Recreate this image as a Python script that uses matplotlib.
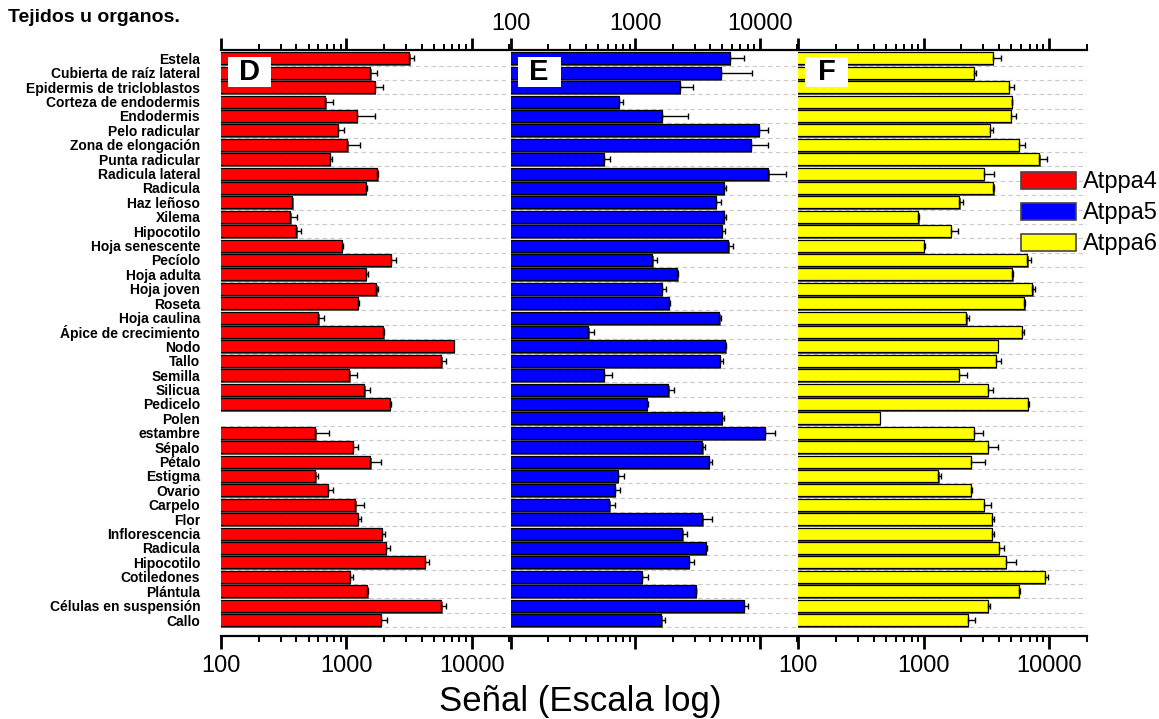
import numpy as np
import matplotlib.pyplot as plt
import matplotlib.patheffects as pe
from matplotlib.patches import Patch, Rectangle

plt.rcParams["font.family"] = ["Liberation Sans", "DejaVu Sans"]

tissues = [
    "Estela", "Cubierta de raíz lateral", "Epidermis de tricloblastos",
    "Corteza de endodermis", "Endodermis", "Pelo radicular",
    "Zona de elongación", "Punta radicular", "Radicula lateral", "Radicula",
    "Haz leñoso", "Xilema", "Hipocotilo", "Hoja senescente", "Pecíolo",
    "Hoja adulta", "Hoja joven", "Roseta", "Hoja caulina",
    "Ápice de crecimiento", "Nodo", "Tallo", "Semilla", "Silicua",
    "Pedicelo", "Polen", "estambre", "Sépalo", "Pétalo", "Estigma",
    "Ovario", "Carpelo", "Flor", "Inflorescencia", "Radicula",
    "Hipocotilo", "Cotiledones", "Plántula", "Células en suspensión", "Callo",
]

# Atppa4 (panel D)
atppa4 = [3180, 1555, 1684, 680, 1217, 859, 1019, 741, 1770, 1437,
          371, 357, 399, 919, 2274, 1428, 1737, 1233, 598, 1973,
          7196, 5730, 1057, 1393, 2220, np.nan, 566, 1131, 1555, 566,
          710, 1180, 1233, 1916, 2062, 4224, 1065, 1472, 5730, 1880]
atppa4_err = [290, 215, 290, 108, 467, 100, 275, 32, 30, 29,
              0, 49, 36, 17, 219, 62, 53, 27, 66, 37,
              0, 480, 154, 162, 54, 0, 162, 102, 325, 27,
              78, 197, 87, 124, 158, 371, 66, 18, 480, 220]

# Atppa5 (panel E)
atppa5 = [5770, 4890, 2290, 741, 1632, 9870, 8470, 558, 11720, 5170,
          4456, 5140, 4950, 5600, 1374, 2180, 1632, 1858, 4740, 420,
          5290, 4770, 558, 1845, 1244, 4980, 10960, 3460, 3915, 723,
          688, 620, 3460, 2390, 3700, 2700, 1133, 3060, 7430, 1621]
atppa5_err = [1660, 3780, 620, 62, 1040, 1850, 3250, 73, 4460, 180,
              394, 190, 300, 500, 115, 40, 126, 42, 110, 44,
              60, 300, 89, 195, 16, 170, 2310, 180, 225, 95,
              67, 72, 650, 220, 60, 285, 126, 40, 680, 125]

# Atppa6 (panel F)
atppa6 = [3548, 2506, 4757, 5025, 4932, 3383, 5750, 8390, 3032, 3594,
          1928, 906, 1645, 1004, 6700, 5090, 7340, 6340, 2190, 6040,
          3917, 3750, 1905, 3237, 6780, 449, 2506, 3237, 2373, 1306,
          2373, 3032, 3510, 3510, 3990, 4530, 9265, 5750, 3237, 2250]
atppa6_err = [592, 114, 523, 75, 538, 165, 670, 1320, 582, 56,
              122, 14, 225, 16, 500, 90, 400, 110, 120, 260,
              0, 410, 315, 357, 120, 0, 471, 703, 693, 74,
              67, 414, 110, 110, 355, 940, 625, 100, 123, 303]

series_names = ["Atppa4", "Atppa5", "Atppa6"]
series_colors = ["#ff0000", "#0000ff", "#ffff00"]
panel_letters = ["D", "E", "F"]

W, H = 1159, 719


def draw_panel(ax, values, errors, color, letter, top_labels, bottom_labels):
    values = np.array(values, dtype=float)
    errors = np.array(errors, dtype=float)
    y = np.arange(len(values))
    ok = ~np.isnan(values)

    bars = ax.barh(y[ok], values[ok], height=0.83, left=0, color=color,
                   edgecolor="black", linewidth=0.9, zorder=3)
    for b in bars:
        b.set_path_effects([pe.SimplePatchShadow(offset=(1, -1.5),
                                                 shadow_rgbFace="#555555",
                                                 alpha=0.9),
                            pe.Normal()])

    has_err = ok & (errors > 0)
    ax.errorbar(values[has_err], y[has_err],
                xerr=[np.zeros(has_err.sum()), errors[has_err]],
                fmt="none", ecolor="black", elinewidth=1, capsize=2,
                capthick=1, zorder=4)

    ax.set_xscale("log")
    ax.set_xlim(100, 20000)
    ax.set_ylim(len(values) - 1 + 1.09, -0.58)

    ax.set_yticks(y + 0.5, minor=True)
    ax.grid(axis="y", which="minor", linestyle=(0, (4, 3)),
            color="#c8c8c8", linewidth=0.8, zorder=0)
    ax.grid(axis="x", visible=False)

    for side in ["left", "right"]:
        ax.spines[side].set_visible(False)
    for side in ["top", "bottom"]:
        ax.spines[side].set_linewidth(1.6)

    ax.tick_params(axis="x", which="both", direction="out",
                   top=True, bottom=True,
                   labeltop=top_labels, labelbottom=bottom_labels,
                   labelsize=17)
    ax.tick_params(axis="x", which="major", length=9, width=2, pad=5)
    ax.tick_params(axis="x", which="minor", length=4, width=1.4)
    if top_labels:
        ax.tick_params(axis="x", which="major", pad=2)
    ax.xaxis.set_major_formatter(plt.FuncFormatter(lambda v, p: f"{v:.0f}"))
    ax.xaxis.set_minor_formatter(plt.NullFormatter())

    # white box behind the panel letter
    ax.add_patch(Rectangle((0.024, 0.937), 0.15, 0.051,
                           transform=ax.transAxes, facecolor="white",
                           edgecolor="none", zorder=5))
    ax.text(0.099, 0.962, letter, transform=ax.transAxes, fontsize=21,
            fontweight="bold", ha="center", va="center", zorder=6)


fig = plt.figure(figsize=(W / 100, H / 100), dpi=100)

bottom = 1 - 635.7 / H
height = (635.7 - 50) / H
lefts = [221, 510.7, 798.3]
widths = [288.3, 286.5, 288.5]

all_vals = [atppa4, atppa5, atppa6]
all_errs = [atppa4_err, atppa5_err, atppa6_err]

axes = []
for i in range(3):
    ax = fig.add_axes([lefts[i] / W, bottom, widths[i] / W, height])
    draw_panel(ax, all_vals[i], all_errs[i], series_colors[i],
               panel_letters[i], top_labels=(i == 1),
               bottom_labels=(i != 1))
    axes.append(ax)

axes[0].set_yticks(np.arange(len(tissues)))
axes[0].set_yticklabels(tissues, fontsize=10, fontweight="bold")
axes[0].tick_params(axis="y", which="both", length=0, pad=15)
for ax in axes[1:]:
    ax.tick_params(axis="y", which="both", left=False, labelleft=False)
    ax.set_yticks([])
    ax.set_yticks(np.arange(len(tissues)) + 0.5, minor=True)
    ax.tick_params(axis="y", which="minor", length=0)
axes[0].tick_params(axis="y", which="minor", length=0)

fig.text(8 / W, 1 - 18 / H, "Tejidos u organos.", fontsize=14,
         fontweight="bold", ha="left", va="center")
fig.text(580 / W, 1 - 702 / H, "Señal (Escala log)", fontsize=25,
         ha="center", va="center")

handles = [Patch(facecolor=c, edgecolor="#444444", linewidth=1.2)
           for c in series_colors]
fig.legend(handles, series_names, loc="upper left",
           bbox_to_anchor=(1012 / W, 1 - 162 / H), frameon=False,
           fontsize=17, handlelength=2.3, handleheight=0.75,
           handletextpad=0.3, labelspacing=0.38, borderaxespad=0)

fig.savefig("out.png", dpi=100)
